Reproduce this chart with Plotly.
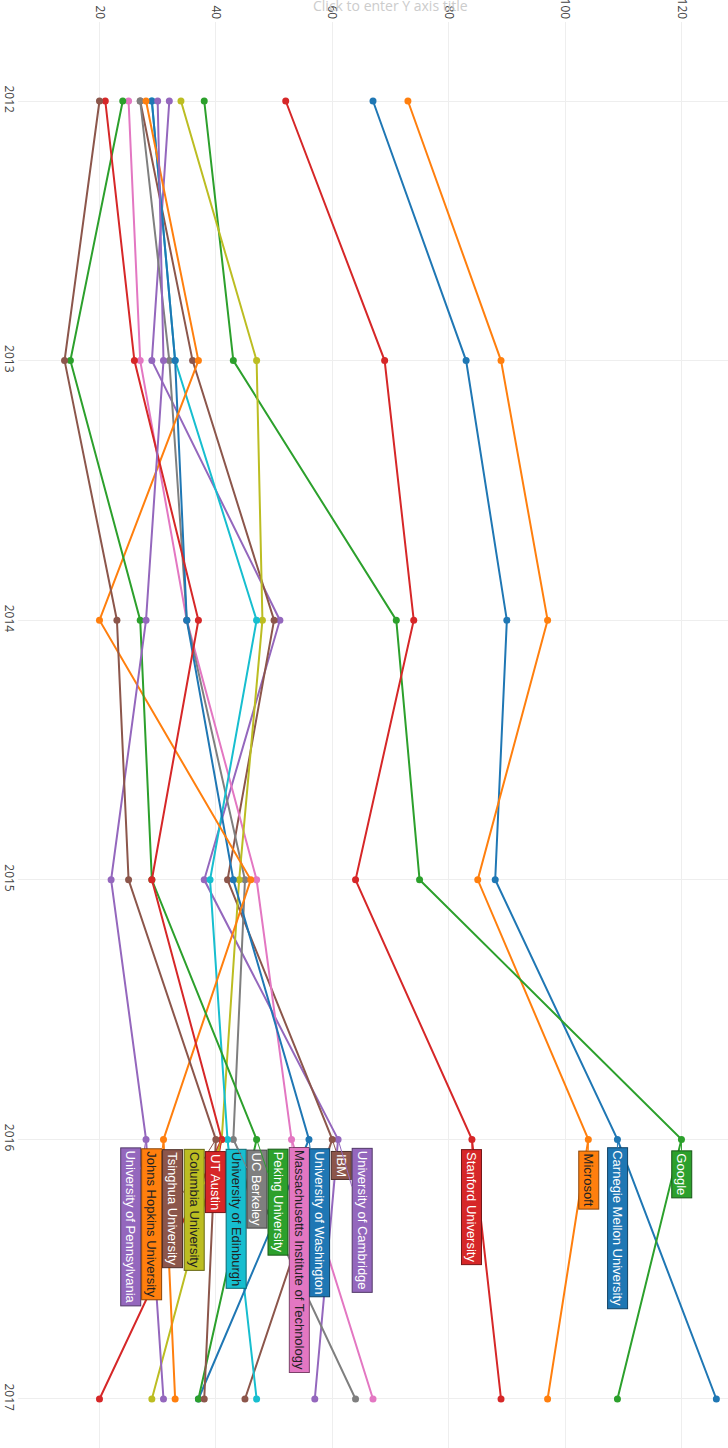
import plotly.graph_objects as go

# years run down the page, scores run across (chart is drawn rotated)
years = [2012, 2013, 2014, 2015, 2016, 2017]

cmu = [67, 83, 90, 88, 109, 126]
microsoft = [73, 89, 97, 85, 104, 97]
google = [38, 43, 71, 75, 120, 109]
stanford = [52, 69, 74, 64, 84, 89]
cambridge = [32, 29, 51, 38, 61, 57]
ibm = [27, 36, 50, 42, 60, 45]
mit = [25, 27, 35, 47, 53, 67]
berkeley = [27, 32, 35, 45, 43, 64]
columbia = [34, 47, 48, 44, 41, 29]
edinburgh = [29, 33, 47, 39, 42, 47]
washington = [29, 33, 35, 43, 56, 37]
hopkins = [28, 37, 20, 46, 31, 33]
peking = [24, 15, 27, 29, 47, 37]
ut_austin = [21, 26, 37, 29, 41, 20]
penn = [30, 31, 28, 22, 28, 31]
tsinghua = [20, 14, 23, 25, 40, 38]

names = ["Carnegie Mellon University", "Microsoft", "Google", "Stanford University",
         "University of Cambridge", "IBM", "Massachusetts Institute of Technology",
         "UC Berkeley", "Columbia University", "University of Edinburgh",
         "University of Washington", "Johns Hopkins University", "Peking University",
         "UT Austin", "University of Pennsylvania", "Tsinghua University"]
series = [cmu, microsoft, google, stanford, cambridge, ibm, mit, berkeley, columbia,
          edinburgh, washington, hopkins, peking, ut_austin, penn, tsinghua]

value_ticks = [20, 40, 60, 80, 100, 120]
label_year = 2016

colors = ["#1f77b4", "#ff7f0e", "#2ca02c", "#d62728", "#9467bd",
          "#8c564b", "#e377c2", "#7f7f7f", "#bcbd22", "#17becf"]
light = {"#ff7f0e", "#e377c2", "#bcbd22", "#17becf"}

W, H = 728, 1448
ml, mt = 18, 22
x_range = [6.0, 128.0]
y_range = [2017.1888, 2011.6957]
ppu = (W - ml) / (x_range[1] - x_range[0])

# rough Arial advance widths, per 1000 em
aw = dict(zip("abcdefghijklmnopqrstuvwxyz",
              [556, 556, 500, 556, 556, 278, 556, 556, 222, 222, 500, 222, 833,
               556, 556, 556, 556, 333, 500, 278, 556, 500, 722, 500, 500, 500]))
aw.update(zip("ABCDEFGHIJKLMNOPQRSTUVWXYZ",
              [667, 667, 722, 722, 667, 611, 778, 722, 278, 500, 667, 556, 833,
               722, 778, 667, 778, 722, 667, 611, 722, 667, 944, 667, 667, 611]))
aw[" "] = 278


def text_len(s, size):
    return 0.95 * sum(aw.get(c, 556) for c in s) * size / 1000.0


def darker(hexcol, f=0.55):
    r, g, b = (int(hexcol[i:i + 2], 16) for i in (1, 3, 5))
    return "#%02x%02x%02x" % (int(r * f), int(g * f), int(b * f))


def spread(pos, width):
    # push overlapping labels apart, keeping each group centred on its points
    clusters = [[p] for p in pos]
    merged = True
    while merged:
        merged = False
        out = [clusters[0]]
        for c in clusters[1:]:
            prev = out[-1]
            pc = sum(prev) / len(prev)
            cc = sum(c) / len(c)
            if pc + len(prev) * width / 2 > cc - len(c) * width / 2:
                out[-1] = prev + c
                merged = True
            else:
                out.append(c)
        clusters = out
    res = []
    for c in clusters:
        m = sum(c) / len(c)
        start = m - len(c) * width / 2 + width / 2
        res += [start + i * width for i in range(len(c))]
    return res


fig = go.Figure()
for i, (name, vals) in enumerate(zip(names, series)):
    col = colors[i % len(colors)]
    fig.add_trace(go.Scatter(x=vals, y=years, mode="lines+markers", name=name,
                             line=dict(color=col, width=2),
                             marker=dict(color=col, size=7)))

# labels at 2016
k = years.index(label_year)
order = sorted(range(len(series)), key=lambda i: (series[i][k], i))
px = [(series[i][k] - x_range[0]) * ppu for i in order]
lab_px = spread(px, 21)

fsize = 13
pad = 2
annotations = []
for j, i in enumerate(order):
    col = colors[i % len(colors)]
    L = text_len(names[i], fsize) + 2 * (pad + 1)
    annotations.append(dict(
        x=series[i][k], y=label_year, xref="x", yref="y",
        text=names[i], textangle=90,
        showarrow=True, arrowhead=0, arrowwidth=1, arrowcolor=col,
        axref="pixel", ayref="pixel", ax=lab_px[j] - px[j], ay=12.5 + L / 2,
        bgcolor=col, bordercolor=darker(col), borderwidth=1, borderpad=pad,
        font=dict(family="Liberation Sans, Arial, sans-serif", size=fsize,
                  color="#222222" if col in light else "#ffffff")))

annotations.append(dict(
    text="Click to enter Y axis title", xref="paper", yref="paper",
    x=0.524, y=1, xanchor="center", yanchor="bottom", yshift=5, showarrow=False,
    font=dict(family="Open Sans, verdana, arial, sans-serif", size=14, color="#cccccc")))

fig.update_layout(
    width=W, height=H,
    margin=dict(l=ml, r=0, t=mt, b=0, pad=0),
    paper_bgcolor="white", plot_bgcolor="white",
    showlegend=False,
    font=dict(family="Open Sans, verdana, arial, sans-serif", size=12, color="#444444"),
    annotations=annotations,
    xaxis=dict(range=x_range, side="top", tickvals=value_ticks, tickangle=90,
               showgrid=True, gridcolor="#eeeeee", zeroline=False, showline=False,
               ticks="", automargin=False),
    yaxis=dict(range=y_range, tickvals=years, ticktext=[str(y) for y in years],
               tickangle=90, showgrid=True, gridcolor="#eeeeee", zeroline=False,
               showline=False, ticks="", automargin=False),
)

# page margin off so the figure sits at the window's corner
fig.write_html("out.html", config={"displayModeBar": False},
               post_script="document.body.style.margin='0';")
